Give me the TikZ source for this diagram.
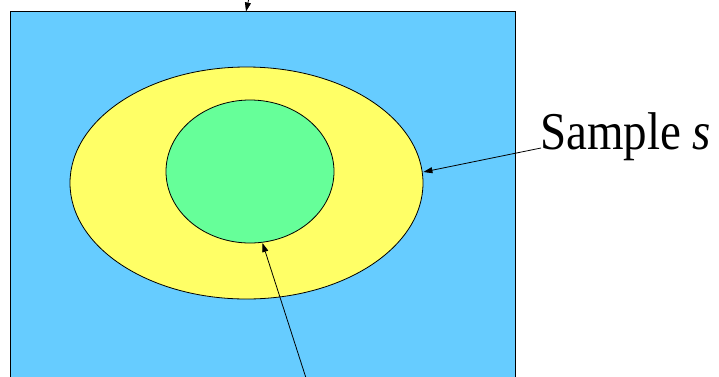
\documentclass[tikz,border=0pt]{standalone}
\usepackage{fontspec}
\setmainfont{Liberation Serif}
\usetikzlibrary{shapes.geometric,arrows.meta}
\definecolor{bgblue}{RGB}{102,204,255}
\definecolor{ylw}{RGB}{255,255,102}
\definecolor{grn}{RGB}{102,255,153}
\tikzset{
  arr/.style={draw=black, line width=0.8pt, -{Triangle[length=9pt,width=6pt]}},
  ell/.style={ellipse, draw=black, line width=0.8pt, inner sep=0pt}
}
\begin{document}
\begin{tikzpicture}[x=1pt,y=-1pt]
\useasboundingbox (0,0) rectangle (719,376);
\fill[white] (0,0) rectangle (719,376);
\node[draw=black, line width=1.3pt, fill=bgblue, minimum width=505pt, minimum height=400pt, inner sep=0pt, anchor=north west] (frame) at (10,11) {};
\node[ell, fill=ylw, minimum width=353pt, minimum height=232pt] (sample) at (246.5,183) {};
\node[ell, fill=grn, minimum width=168pt, minimum height=143pt] (inner) at (250,171.5) {};
\node[anchor=base west, inner sep=0pt, font=\fontsize{47}{50}\selectfont] (lbl) at (540,149.5) {\scalebox{1}[1.13]{Sample \textit{s}}};
\coordinate (topend) at (249,-2);
\coordinate (botend) at (306,378);
\coordinate (lblend) at (541,148);
\draw[arr] (topend) -- (246,11.5);
\draw[arr] (lblend) -- (sample.east |- 0,172);
\draw[arr] (botend) -- (262.5,243);
\end{tikzpicture}
\end{document}
